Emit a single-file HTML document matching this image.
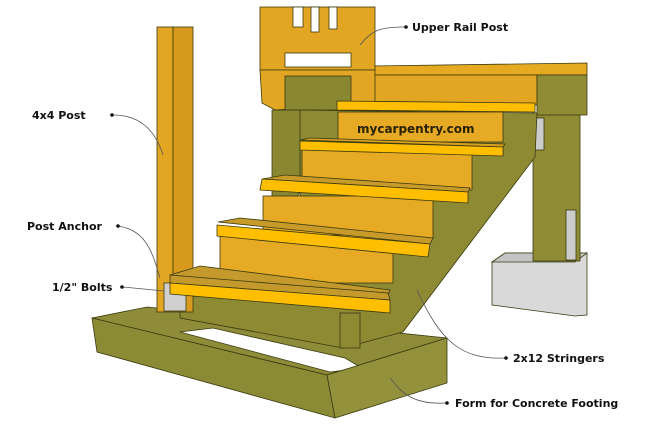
<!DOCTYPE html>
<html><head><style>
html,body{margin:0;padding:0;background:#fff;}
svg{display:block}
text{font-family:"DejaVu Sans","Liberation Sans",sans-serif;font-weight:bold;font-size:11px;fill:#111}
</style></head><body>
<svg width="650" height="427" viewBox="0 0 650 427" xmlns="http://www.w3.org/2000/svg">
<g stroke="#3a3a10" stroke-width="0.8">
<!-- concrete block -->
<polygon points="492,262 505,253 587,253 587,315 575,316 492,305" fill="#d9d9d9"/>
<polygon points="492,262 575,262 587,253 505,253" fill="#c4c4c4"/>
<!-- right post -->
<rect x="533" y="113" width="47" height="148" fill="#8f8c35"/>
<rect x="566" y="210" width="10" height="50" fill="#ccc"/>
<rect x="535" y="118" width="9" height="32" fill="#ccc"/>
<!-- deck -->
<polygon points="370,66 587,63 587,75 370,75" fill="#e6aa22"/>
<rect x="372" y="75" width="165" height="30" fill="#e3a623"/>
<rect x="537" y="75" width="50" height="40" fill="#8f8c35"/>
<!-- back stringer left -->
<polygon points="272,110 308,110 308,178 272,240" fill="#8a8733"/>
<!-- upper rail posts -->
<rect x="260" y="7" width="115" height="63" fill="#e3a623"/>
<rect x="293" y="7" width="10" height="20" fill="#fff"/>
<rect x="311" y="7" width="8" height="25" fill="#fff"/>
<rect x="329" y="7" width="8" height="22" fill="#fff"/>
<rect x="285" y="53" width="66" height="14" fill="#fff"/>
<polygon points="260,70 375,70 375,103 275,110 262,103" fill="#e3a623"/>
<rect x="285" y="76" width="66" height="34" fill="#8a8733"/>
<!-- footing form -->
<polygon points="92,318 147,307 447,338 327,375" fill="#8e8c38"/>
<polygon points="180,332 213,328 345,358 362,368 330,372" fill="#fff"/>
<polygon points="92,318 327,375 335,418 97,352" fill="#8b8a35"/>
<polygon points="327,375 447,338 447,383 335,418" fill="#93913b"/>
<!-- big stringer -->
<polygon points="300,110 537,113 535,157 403,332 343,348 180,318 180,300 300,270" fill="#8d8a33"/>
<!-- 4x4 post -->
<rect x="157" y="27" width="16" height="285" fill="#e3a623"/>
<rect x="173" y="27" width="20" height="285" fill="#d89a1c"/>
<rect x="164" y="283" width="22" height="28" fill="#cfcfcf"/>
<!-- riser 1 & tread 1 -->
<rect x="338" y="112" width="165" height="30" fill="#e6aa25"/>
<polygon points="337,101 535,103 535,112 337,110" fill="#ffbf00"/>
<!-- riser 2, tread 2 -->
<rect x="302" y="150" width="170" height="40" fill="#e6aa25"/>
<polygon points="300,140 310,138 505,144 503,147" fill="#d8a023"/>
<polygon points="300,141 503,147 503,156 300,150" fill="#ffbf00"/>
<!-- riser 3 tread 3 -->
<rect x="263" y="196" width="170" height="42" fill="#e6aa25"/>
<polygon points="262,179 285,175 470,188 468,192" fill="#c89a2a"/>
<polygon points="262,179 468,192 468,203 260,190" fill="#ffbf00"/>
<!-- riser 4 tread 4 -->
<rect x="220" y="235" width="173" height="48" fill="#e6aa25"/>
<polygon points="218,222 240,218 433,238 430,244" fill="#c89a2a"/>
<polygon points="217,225 430,244 428,257 217,236" fill="#ffbf00"/>
<!-- tread 5 -->
<polygon points="170,275 200,266 390,290 388,295" fill="#c49a2c"/>
<polygon points="170,275 388,293 390,300 170,283" fill="#c49a2c"/>
<polygon points="170,283 390,300 390,313 170,294" fill="#ffbf00"/>
<rect x="340" y="313" width="20" height="35" fill="#8d8a33"/>
</g>
<text x="357" y="133" style="font-size:12px;fill:#2a2200">mycarpentry.com</text>
<g stroke="#555" stroke-width="0.8" fill="none">
<path d="M405,27 C380,27 372,30 360,45"/>
<path d="M113,115 C140,115 155,130 163,155"/>
<path d="M118,226 C145,230 152,250 160,278"/>
<path d="M123,287 L164,291"/>
<path d="M505,358 C460,360 440,340 417,290"/>
<path d="M446,403 C410,405 400,390 390,378"/>
</g>
<g fill="#111">
<circle cx="406" cy="27" r="1.8"/><circle cx="112" cy="115" r="1.8"/><circle cx="118" cy="226" r="1.8"/>
<circle cx="122" cy="287" r="1.8"/><circle cx="506" cy="358" r="1.8"/><circle cx="447" cy="403" r="1.8"/>
</g>
<text x="412" y="31">Upper Rail Post</text>
<text x="32" y="119">4x4 Post</text>
<text x="27" y="230">Post Anchor</text>
<text x="52" y="291">1/2" Bolts</text>
<text x="513" y="362">2x12 Stringers</text>
<text x="455" y="407">Form for Concrete Footing</text>
</svg>
</body></html>
